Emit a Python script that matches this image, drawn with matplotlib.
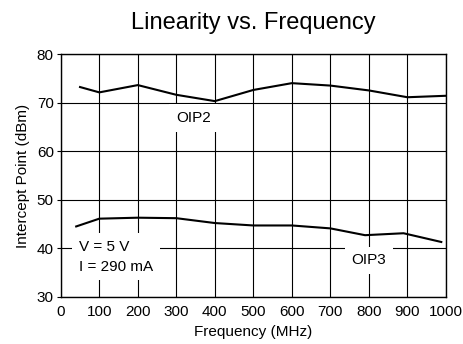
import matplotlib.pyplot as plt
import numpy as np

plt.rcParams['font.family'] = ['Liberation Sans', 'DejaVu Sans']

# OIP2 curve
freq_oip2 = [50, 100, 200, 300, 400, 500, 600, 700, 800, 900, 1000]
oip2 = [73.2, 72.1, 73.6, 71.6, 70.3, 72.6, 74.0, 73.5, 72.5, 71.1, 71.4]

# OIP3 curve
freq_oip3 = [40, 100, 200, 300, 400, 500, 600, 700, 790, 890, 988]
oip3 = [44.5, 46.1, 46.3, 46.2, 45.2, 44.7, 44.7, 44.1, 42.7, 43.1, 41.3]

xticks = [0, 100, 200, 300, 400, 500, 600, 700, 800, 900, 1000]
yticks = [30, 40, 50, 60, 70, 80]

fig = plt.figure(figsize=(4.64, 3.44), dpi=100)
ax = fig.add_axes([0.131, 0.137, 0.830, 0.706])

ax.plot(freq_oip2, oip2, color='black', lw=1.5, zorder=3)
ax.plot(freq_oip3, oip3, color='black', lw=1.5, zorder=3)

ax.set_xlim(0, 1000)
ax.set_ylim(30, 80)
ax.set_xticks(xticks)
ax.set_yticks(yticks)
ax.grid(True, color='black', lw=0.8)
ax.set_axisbelow(True)
ax.tick_params(axis='y', length=3, width=0.8, labelsize=11, pad=2)
ax.tick_params(axis='x', length=0, labelsize=11, pad=6)
for s in ax.spines.values():
    s.set_linewidth(1.0)

ax.set_xlabel('Frequency (MHz)', fontsize=11, labelpad=4)
ax.set_ylabel('Intercept Point (dBm)', fontsize=11, labelpad=5)
ax.set_title('Linearity vs. Frequency', fontsize=17, pad=18)

box = dict(facecolor='white', edgecolor='none', pad=5)
ax.text(345, 66.8, 'OIP2', fontsize=11, ha='center', va='center', bbox=box, zorder=2)
ax.text(800, 37.5, 'OIP3', fontsize=11, ha='center', va='center', bbox=box, zorder=2)
ax.text(48, 38.3, 'V = 5 V\nI = 290 mA', fontsize=11, ha='left', va='center',
        linespacing=1.55, bbox=box, zorder=2)

fig.savefig('out.png', dpi=100)
